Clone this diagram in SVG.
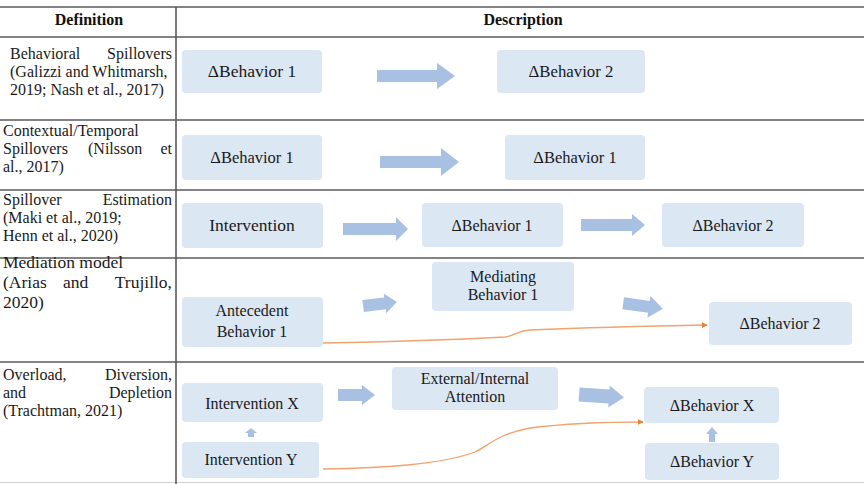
<svg xmlns="http://www.w3.org/2000/svg" width="864" height="484" viewBox="0 0 864 484">
<defs>
<style>
.grid{stroke:#5a5a5a;stroke-width:1.6;fill:none}
.box{fill:#dce7f4}
.def{font-family:"Liberation Serif","Times New Roman",serif;font-size:16px;fill:#1a1a1a}
.def4{font-family:"Liberation Serif","Times New Roman",serif;font-size:17.5px;fill:#1a1a1a}
.hd{font-family:"Liberation Serif","Times New Roman",serif;font-size:16px;font-weight:bold;fill:#111;text-anchor:middle}
.lbl{font-family:"Liberation Serif","Times New Roman",serif;font-size:16px;fill:#1a1a1a;text-anchor:middle}
.blk{fill:#a8c0e1}
.cur{fill:none;stroke:#f2a26e;stroke-width:1.3}
</style>
<marker id="oh" viewBox="0 0 10 10" refX="9" refY="5" markerWidth="6" markerHeight="6" markerUnits="userSpaceOnUse" orient="auto">
<path d="M0,0 L10,5 L0,10 Z" fill="#ed7d31"/>
</marker>
</defs>
<rect width="864" height="484" fill="#ffffff"/>

<g id="table">
<line class="grid" x1="0" y1="7" x2="864" y2="7"/>
<line class="grid" x1="0" y1="37" x2="864" y2="37"/>
<line class="grid" x1="0" y1="120" x2="864" y2="120"/>
<line class="grid" x1="0" y1="190" x2="864" y2="190"/>
<line class="grid" x1="0" y1="258" x2="864" y2="258"/>
<line class="grid" x1="0" y1="362" x2="864" y2="362"/>
<line x1="0" y1="482.5" x2="864" y2="482.5" stroke="#cfcfcf" stroke-width="1"/>
<line class="grid" x1="176" y1="7" x2="176" y2="484"/>
<text class="hd" x="89" y="25">Definition</text>
<text class="hd" x="523" y="25">Description</text>
</g>

<g id="definitions">
<text class="def" x="10" y="59">Behavioral</text>
<text class="def" x="172" y="59" text-anchor="end">Spillovers</text>
<text class="def" x="10" y="77">(Galizzi and Whitmarsh,</text>
<text class="def" x="10" y="95">2019; Nash et al., 2017)</text>

<text class="def" x="3" y="136">Contextual/Temporal</text>
<text class="def" x="3" y="154">Spillovers</text>
<text class="def" x="88" y="154">(Nilsson</text>
<text class="def" x="172" y="154" text-anchor="end">et</text>
<text class="def" x="3" y="172">al., 2017)</text>

<text class="def" x="3" y="205">Spillover</text>
<text class="def" x="172" y="205" text-anchor="end">Estimation</text>
<text class="def" x="3" y="223">(Maki et al., 2019;</text>
<text class="def" x="3" y="241">Henn et al., 2020)</text>

<text class="def4" x="3" y="268">Mediation model</text>
<text class="def4" x="3" y="288">(Arias</text>
<text class="def4" x="63" y="288">and</text>
<text class="def4" x="172" y="288" text-anchor="end">Trujillo,</text>
<text class="def4" x="3" y="308">2020)</text>

<text class="def" x="3" y="380">Overload,</text>
<text class="def" x="172" y="380" text-anchor="end">Diversion,</text>
<text class="def" x="3" y="398">and</text>
<text class="def" x="172" y="398" text-anchor="end">Depletion</text>
<text class="def" x="3" y="416">(Trachtman, 2021)</text>
</g>

<!-- Row 1 -->
<g id="r1-b1"><rect class="box" x="182" y="50" width="140" height="43" rx="4"/><text class="lbl" x="252" y="77" style="font-size:17.5px">ΔBehavior 1</text></g>
<g id="r1-b2"><rect class="box" x="497" y="50" width="148" height="43" rx="4"/><text class="lbl" x="571" y="77" style="font-size:16.8px">ΔBehavior 2</text></g>

<!-- Row 2 -->
<g id="r2-b1"><rect class="box" x="182" y="135" width="140" height="45" rx="4"/><text class="lbl" x="252" y="163" style="font-size:16.5px">ΔBehavior 1</text></g>
<g id="r2-b2"><rect class="box" x="505" y="135" width="140" height="45" rx="4"/><text class="lbl" x="575" y="163" style="font-size:16.5px">ΔBehavior 1</text></g>

<!-- Row 3 -->
<g id="r3-int"><rect class="box" x="182" y="203" width="141" height="45" rx="4"/><text class="lbl" x="252" y="231" style="font-size:17.5px">Intervention</text></g>
<g id="r3-b1"><rect class="box" x="422" y="203" width="141" height="44" rx="4"/><text class="lbl" x="492" y="231">ΔBehavior 1</text></g>
<g id="r3-b2"><rect class="box" x="662" y="203" width="142" height="44" rx="4"/><text class="lbl" x="733" y="231">ΔBehavior 2</text></g>

<!-- Row 4 -->
<g id="r4-ant"><rect class="box" x="182" y="297" width="141" height="50" rx="4"/><text class="lbl" x="252" y="316">Antecedent</text><text class="lbl" x="252" y="337">Behavior 1</text></g>
<g id="r4-med"><rect class="box" x="432" y="262" width="142" height="49" rx="4"/><text class="lbl" x="503" y="282">Mediating</text><text class="lbl" x="503" y="300">Behavior 1</text></g>
<g id="r4-b2"><rect class="box" x="709" y="302" width="143" height="43" rx="4"/><text class="lbl" x="780" y="329">ΔBehavior 2</text></g>

<!-- Row 5 -->
<g id="r5-ix"><rect class="box" x="182" y="383" width="141" height="39" rx="4"/><text class="lbl" x="252" y="409">Intervention X</text></g>
<g id="r5-iy"><rect class="box" x="182" y="442" width="137" height="36" rx="4"/><text class="lbl" x="251" y="465">Intervention Y</text></g>
<g id="r5-att"><rect class="box" x="392" y="367" width="166" height="43" rx="4"/><text class="lbl" x="475" y="384">External/Internal</text><text class="lbl" x="475" y="402">Attention</text></g>
<g id="r5-bx"><rect class="box" x="644" y="387" width="135" height="36" rx="4"/><text class="lbl" x="712" y="411">ΔBehavior X</text></g>
<g id="r5-by"><rect class="box" x="645" y="443" width="134" height="37" rx="4"/><text class="lbl" x="712" y="467">ΔBehavior Y</text></g>

<g id="connectors">
<path class="blk" d="M377,70 H437 V63 L455,76 L437,89 V82 H377 Z"/>
<path class="blk" d="M380,156 H441 V148 L459,162 L441,176 V168 H380 Z"/>
<path class="blk" d="M343,223 H396 V217 L408,229 L396,241 V235 H343 Z"/>
<path class="blk" d="M581,219 H632 V214 L645,225 L632,236 V231 H581 Z"/>
<path class="blk" d="M-17,-6 H5 V-10 L17,0 L5,10 V6 H-17 Z" transform="translate(380,304) rotate(-7)"/>
<path class="blk" d="M-20,-6 H6 V-11 L20,0 L6,11 V6 H-20 Z" transform="translate(643,306) rotate(8)"/>
<path class="blk" d="M338,389 H362 V385 L375,395 L362,405 V401 H338 Z"/>
<path class="blk" d="M-22,-7 H8 V-11 L23,0 L8,11 V7 H-22 Z" transform="translate(601,396) rotate(4)"/>
<path class="blk" d="M251,428 L257,433 H254 V437 H248 V433 H245 Z"/>
<path class="blk" d="M712,427 L718,434 H715 V442 H709 V434 H706 Z"/>
<path class="cur" marker-end="url(#oh)" d="M323,343 C380,342 430,341 505,337 C515,336 516,331 530,330 C600,327 650,326 707,325"/>
<path class="cur" marker-end="url(#oh)" d="M323,469 C380,468 440,465 475,452 C490,445 495,435 530,428 C570,423 610,422 643,422"/>
</g>
</svg>
